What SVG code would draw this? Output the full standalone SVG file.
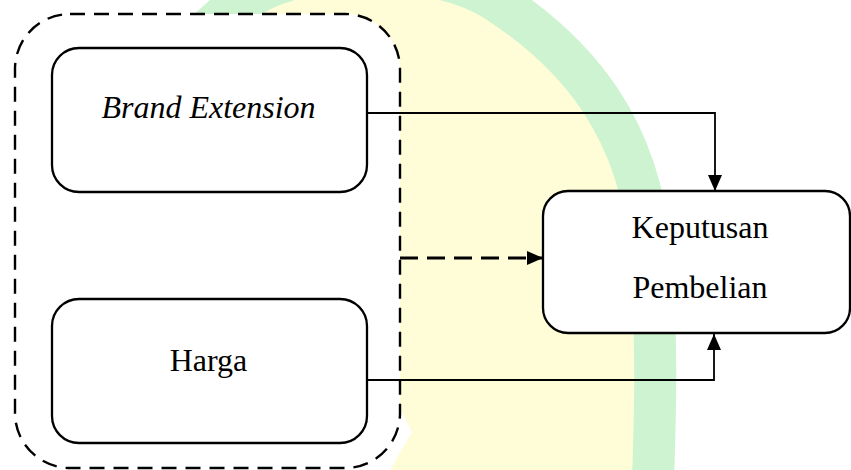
<svg xmlns="http://www.w3.org/2000/svg" width="851" height="470" viewBox="0 0 851 470">
  <style>
    .node { fill: #ffffff; stroke: #000000; stroke-width: 2.3; }
    .label { font-family: "Liberation Serif", "Times New Roman", serif; font-size: 32px; fill: #000000; text-anchor: middle; }
    .conn { fill: none; stroke: #000000; stroke-width: 1.8; }
    .dash { fill: none; stroke: #000000; stroke-width: 2.8; stroke-dasharray: 18 9; }
    .group { fill: #ffffff; stroke: #000000; stroke-width: 2.4; stroke-dasharray: 15 9; }
  </style>
  <defs>
    <marker id="arr" markerUnits="userSpaceOnUse" markerWidth="16" markerHeight="14" viewBox="0 0 16 14" refX="16" refY="7" orient="auto">
      <path d="M0,0 L16,7 L0,14 Z" fill="#000000"/>
    </marker>
  </defs>
  <rect x="0" y="0" width="851" height="470" fill="#ffffff"/>
  <g id="watermark">
    <path d="M140,130 C180,50 215,20 245,0 C300,-40 430,-40 495,0 C580,55 640,130 650,250 C658,340 655,420 653,480 L390,470 L412,432 L396,400 L380,300 Z" fill="#fffdd7"/>
    <path d="M140,130 C180,50 215,20 245,0 C300,-40 430,-40 495,0 C580,55 640,130 650,250 C658,340 655,420 653,480" fill="none" stroke="#cdf3d0" stroke-width="42"/>
  </g>
  <g id="group-box">
    <rect class="group" x="15" y="14" width="385" height="454" rx="55" ry="55"/>
  </g>
  <g id="brand-extension">
    <rect class="node" x="52" y="48" width="315" height="144" rx="27" ry="27"/>
    <text class="label" x="208.5" y="118" font-style="italic">Brand Extension</text>
  </g>
  <g id="harga">
    <rect class="node" x="52" y="299" width="315" height="144" rx="27" ry="27"/>
    <text class="label" x="208.5" y="371">Harga</text>
  </g>
  <g id="keputusan-pembelian">
    <rect class="node" x="543" y="191" width="307" height="142" rx="25" ry="25"/>
    <text class="label" x="700" y="238">Keputusan</text>
    <text class="label" x="700" y="298">Pembelian</text>
  </g>
  <g id="connectors">
    <polyline class="conn" points="367,113 715,113 715,191" marker-end="url(#arr)"/>
    <polyline class="conn" points="367,380 714,380 714,334" marker-end="url(#arr)"/>
    <line class="dash" x1="400" y1="258" x2="543" y2="258" marker-end="url(#arr)"/>
  </g>
</svg>
